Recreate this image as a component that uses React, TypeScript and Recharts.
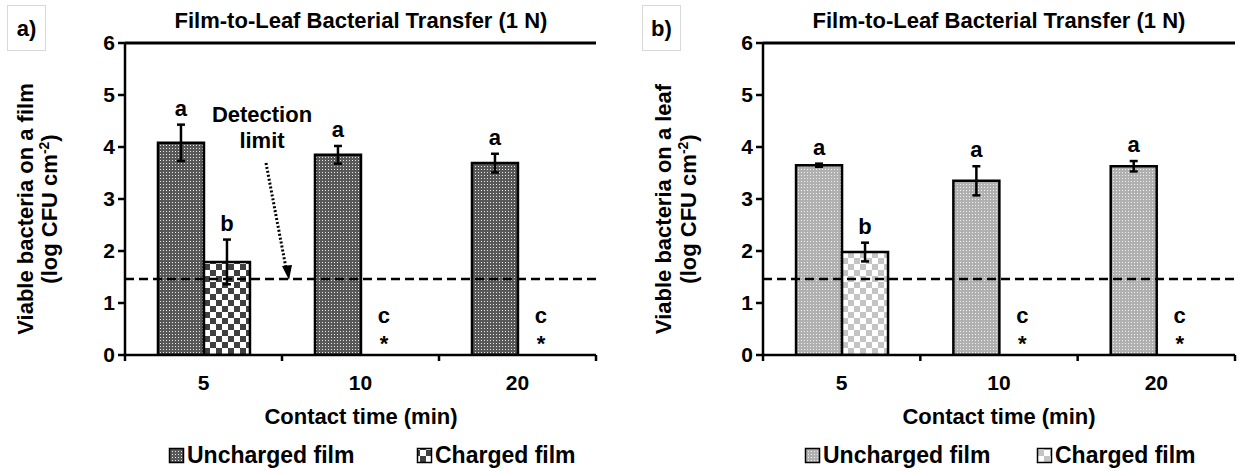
import { BarChart, Bar, XAxis, YAxis, ErrorBar, LabelList, ReferenceLine } from "recharts";

const contactTimes = ["5", "10", "20"];
const yTicks = [0, 1, 2, 3, 4, 5, 6];
const detectionLimit = 1.46;

// a) bacteria on the film
const filmUncharged = [4.08, 3.85, 3.69];
const filmUnchargedErr = [0.35, 0.17, 0.18];
const filmUnchargedLetters = ["a", "a", "a"];
const filmCharged = [1.79, 0, 0];
const filmChargedErr = [0.43, 0, 0];
const filmChargedLetters = ["b", "c", "c"];

// b) bacteria on the leaf
const leafUncharged = [3.65, 3.35, 3.63];
const leafUnchargedErr = [0.03, 0.28, 0.1];
const leafUnchargedLetters = ["a", "a", "a"];
const leafCharged = [1.98, 0, 0];
const leafChargedErr = [0.18, 0, 0];
const leafChargedLetters = ["b", "c", "c"];

const FONT = '"Liberation Sans", Arial, sans-serif';
const TICK_SIZE = 6;
const TICK_MARGIN = 14;
const CHART_H = 471;

function Patterns({ id, base, dot, check }: { id: string; base: string; dot: string; check: string }) {
  return (
    <defs>
      <pattern id={`${id}-unc`} width={3} height={3} patternUnits="userSpaceOnUse">
        <rect width={3} height={3} fill={base} />
        <rect x={1} y={1} width={1} height={1} fill={dot} />
      </pattern>
      <pattern id={`${id}-chg`} width={12} height={12} patternUnits="userSpaceOnUse">
        <rect width={12} height={12} fill="#fff" />
        <rect width={6} height={6} fill={check} />
        <rect x={6} y={6} width={6} height={6} fill={check} />
      </pattern>
    </defs>
  );
}

const labelStyle = { fontFamily: FONT, fontWeight: 700, fontSize: 22 };

// letters over each bar; the charged bar sits right next to the uncharged one,
// so "c *" for an empty charged bar is drawn from the uncharged bar's geometry
function letterLabel(
  letters: string[],
  errs: number[],
  vals: number[],
  nextLetters: string[],
  nextErrs: number[],
  nextVals: number[],
) {
  return (props: any) => {
    const { x, y, width, height, index } = props;
    const w = Number(width);
    const base = Number(y) + Number(height);
    const ppu = Number(height) / vals[index];
    const out: any[] = [];
    const cx = Number(x) + w / 2;
    out.push(
      <text key="own" x={cx} y={Number(y) - errs[index] * ppu - 9} textAnchor="middle" style={labelStyle}>
        {letters[index]}
      </text>,
    );
    const nx = Number(x) + w * 1.5;
    const nv = nextVals[index];
    if (!nv) {
      out.push(
        <text key="c" x={nx} y={base - 32} textAnchor="middle" style={labelStyle}>{nextLetters[index]}</text>,
        <text key="s" x={nx} y={base - 4} textAnchor="middle" style={labelStyle}>*</text>,
      );
    } else {
      out.push(
        <text key="n" x={nx} y={base - (nv + nextErrs[index]) * ppu - 9} textAnchor="middle" style={labelStyle}>
          {nextLetters[index]}
        </text>,
      );
    }
    return <g>{out}</g>;
  };
}

function CategoryTick(props: any) {
  const { x, y, payload, index, visibleTicksCount } = props;
  const half = payload?.offset ?? 78.5;
  const y0 = y - TICK_MARGIN - TICK_SIZE;
  const last = index === visibleTicksCount - 1;
  return (
    <g>
      <line x1={x - half} x2={x - half} y1={y0} y2={y0 + TICK_SIZE} stroke="#000" strokeWidth={2.5} />
      {last && <line x1={x + half} x2={x + half} y1={y0} y2={y0 + TICK_SIZE} stroke="#000" strokeWidth={2.5} />}
      <text x={x} y={y} dy="0.71em" textAnchor="middle" style={{ fontFamily: FONT, fontWeight: 700, fontSize: 21 }}>
        {payload.value}
      </text>
    </g>
  );
}

type PanelProps = {
  id: string;
  width: number;
  marginLeft: number;
  marginRight: number;
  unc: number[];
  uncErr: number[];
  uncLetters: string[];
  chg: number[];
  chgErr: number[];
  chgLetters: string[];
  base: string;
  dot: string;
  check: string;
};

function Panel(p: PanelProps) {
  const rows = contactTimes.map((t, i) => ({
    time: t,
    unc: p.unc[i],
    uncErr: p.uncErr[i],
    chg: p.chg[i],
    chgErr: p.chgErr[i],
  }));
  return (
    <BarChart
      width={p.width}
      height={CHART_H}
      data={rows}
      margin={{ top: 43, right: p.marginRight, left: p.marginLeft, bottom: 86 }}
      barCategoryGap="21%"
      barGap={0}
    >
      <Patterns id={p.id} base={p.base} dot={p.dot} check={p.check} />
      <XAxis
        dataKey="time"
        height={30}
        axisLine={{ stroke: "#000", strokeWidth: 2.5 }}
        tickLine={false}
        tickSize={TICK_SIZE}
        tickMargin={TICK_MARGIN}
        tick={<CategoryTick />}
        interval={0}
      />
      <YAxis
        width={60}
        domain={[0, 6]}
        ticks={yTicks}
        allowDataOverflow
        axisLine={{ stroke: "#000", strokeWidth: 2.5 }}
        tickLine={{ stroke: "#000", strokeWidth: 2.5 }}
        tickSize={7}
        tickMargin={3}
        tick={{ fill: "#000", fontFamily: FONT, fontWeight: 700, fontSize: 21 }}
      />
      <ReferenceLine y={6} stroke="#000" strokeWidth={3} />
      <Bar dataKey="unc" fill={`url(#${p.id}-unc)`} stroke="#000" strokeWidth={2.5} isAnimationActive={false}>
        <ErrorBar dataKey="uncErr" width={4} stroke="#000" strokeWidth={2.5} />
        <LabelList
          dataKey="unc"
          content={letterLabel(p.uncLetters, p.uncErr, p.unc, p.chgLetters, p.chgErr, p.chg)}
        />
      </Bar>
      <Bar dataKey="chg" fill={`url(#${p.id}-chg)`} stroke="#000" strokeWidth={2.5} isAnimationActive={false}>
        <ErrorBar dataKey="chgErr" width={4} stroke="#000" strokeWidth={2.5} />
      </Bar>
      <ReferenceLine y={detectionLimit} stroke="#000" strokeWidth={2.5} strokeDasharray="9 5" />
    </BarChart>
  );
}

const bold = { fontFamily: FONT, fontWeight: 700 } as const;
const TITLE = "Film-to-Leaf Bacterial Transfer (1 N)";

function Overlay() {
  return (
    <svg width={1239} height={471} style={{ position: "absolute", left: 0, top: 0, pointerEvents: "none" }}>
      <Patterns id="lga" base="#585858" dot="#e8e8e8" check="#404040" />
      <Patterns id="lgb" base="#b0b0b0" dot="#f0f0f0" check="#c4c4c4" />

      <rect x={7.5} y={5.5} width={38} height={45} fill="#fff" stroke="#d9d9d9" />
      <text x={26.5} y={36} textAnchor="middle" fontSize={22} style={bold}>a)</text>
      <rect x={642.5} y={5.5} width={38} height={45} fill="#fff" stroke="#d9d9d9" />
      <text x={661.5} y={36} textAnchor="middle" fontSize={22} style={bold}>b)</text>

      <text x={361} y={28} textAnchor="middle" fontSize={22} style={bold}>{TITLE}</text>
      <text x={999} y={28} textAnchor="middle" fontSize={22} style={bold}>{TITLE}</text>

      <text transform="translate(33,209) rotate(-90)" textAnchor="middle" fontSize={22} style={bold}>
        Viable bacteria on a film
      </text>
      <text transform="translate(57,209) rotate(-90)" textAnchor="middle" fontSize={22} style={bold}>
        (log CFU cm<tspan fontSize={14} dy={-8}>-2</tspan><tspan dy={8}>)</tspan>
      </text>
      <text transform="translate(671,209) rotate(-90)" textAnchor="middle" fontSize={22} style={bold}>
        Viable bacteria on a leaf
      </text>
      <text transform="translate(696,209) rotate(-90)" textAnchor="middle" fontSize={22} style={bold}>
        (log CFU cm<tspan fontSize={14} dy={-8}>-2</tspan><tspan dy={8}>)</tspan>
      </text>

      <text x={361} y={424} textAnchor="middle" fontSize={22} style={bold}>Contact time (min)</text>
      <text x={999} y={424} textAnchor="middle" fontSize={22} style={bold}>Contact time (min)</text>

      {/* legends */}
      <rect x={169.5} y={448.5} width={14} height={14} fill="url(#lga-unc)" stroke="#000" strokeWidth={1.5} />
      <text x={187} y={463} fontSize={23} style={bold}>Uncharged film</text>
      <rect x={417.5} y={448.5} width={14} height={14} fill="url(#lga-chg)" stroke="#000" strokeWidth={1.5} />
      <text x={435} y={463} fontSize={23} style={bold}>Charged film</text>
      <rect x={805.5} y={448.5} width={14} height={14} fill="url(#lgb-unc)" stroke="#000" strokeWidth={1.5} />
      <text x={823} y={463} fontSize={23} style={bold}>Uncharged film</text>
      <rect x={1037.5} y={448.5} width={14} height={14} fill="url(#lgb-chg)" stroke="#000" strokeWidth={1.5} />
      <text x={1055} y={463} fontSize={23} style={bold}>Charged film</text>

      {/* detection limit note */}
      <text x={262} y={122} textAnchor="middle" fontSize={22} style={bold}>Detection</text>
      <text x={262} y={148} textAnchor="middle" fontSize={22} style={bold}>limit</text>
      <line x1={266} y1={163} x2={286} y2={268} stroke="#000" strokeWidth={3} strokeDasharray="2 2" />
      <polygon points="289,280 282,266 292,265" fill="#000" />
    </svg>
  );
}

export default function App() {
  return (
    <div style={{ position: "absolute", left: 0, top: 0, width: 1239, height: 471, background: "#fff", overflow: "hidden" }}>
      <div style={{ position: "absolute", left: 0, top: 0 }}>
        <Panel
          id="pa"
          width={620}
          marginLeft={65}
          marginRight={24}
          unc={filmUncharged}
          uncErr={filmUnchargedErr}
          uncLetters={filmUnchargedLetters}
          chg={filmCharged}
          chgErr={filmChargedErr}
          chgLetters={filmChargedLetters}
          base="#585858"
          dot="#e8e8e8"
          check="#404040"
        />
      </div>
      <div style={{ position: "absolute", left: 620, top: 0 }}>
        <Panel
          id="pb"
          width={619}
          marginLeft={83}
          marginRight={4}
          unc={leafUncharged}
          uncErr={leafUnchargedErr}
          uncLetters={leafUnchargedLetters}
          chg={leafCharged}
          chgErr={leafChargedErr}
          chgLetters={leafChargedLetters}
          base="#b0b0b0"
          dot="#f0f0f0"
          check="#c4c4c4"
        />
      </div>
      <Overlay />
    </div>
  );
}
